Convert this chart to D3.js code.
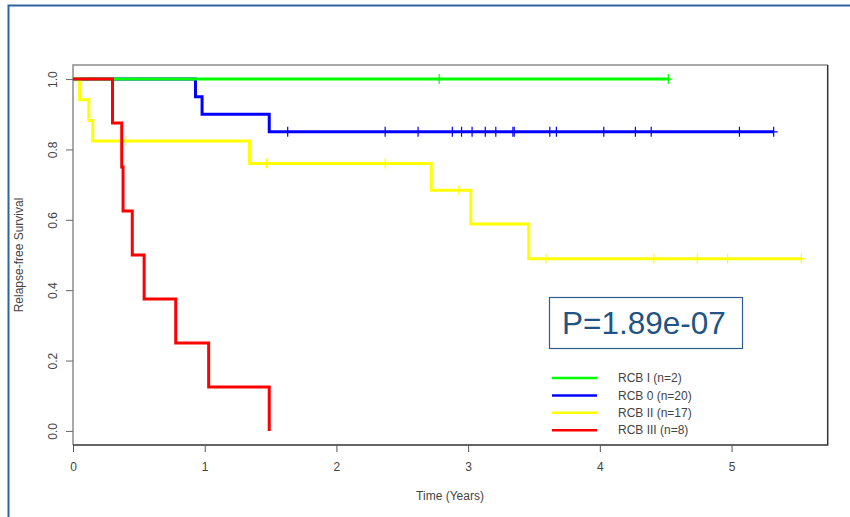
<!DOCTYPE html>
<html>
<head>
<meta charset="utf-8">
<script src="https://cdn.jsdelivr.net/npm/d3@7"></script>
<style>
  body { margin: 0; background: #fff; }
  svg { display: block; font-family: "Liberation Sans", Arial, sans-serif; }
</style>
</head>
<body>
<div id="km"></div>
<script>
// groups, in legend order
var groups = ["RCB I (n=2)", "RCB 0 (n=20)", "RCB II (n=17)", "RCB III (n=8)"];
var colors = ["#00ff00", "#0000ff", "#ffff00", "#ff0000"];

// event times (years) and survival after each event
var eventTimes = [
  [],
  [0.93, 0.98, 1.49],
  [0.05, 0.12, 0.15, 1.34, 2.72, 3.02, 3.46],
  [0.30, 0.37, 0.38, 0.45, 0.54, 0.78, 1.03, 1.49]
];
var survival = [
  [],
  [0.95, 0.90, 0.85],
  [0.941, 0.882, 0.824, 0.760, 0.684, 0.588, 0.489],
  [0.875, 0.75, 0.625, 0.5, 0.375, 0.25, 0.125, 0.0]
];
// censored times (the + marks)
var censorTimes = [
  [2.78, 4.52],
  [1.63, 2.37, 2.62, 2.88, 2.95, 3.03, 3.13, 3.21, 3.34, 3.35, 3.62, 3.67, 4.03, 4.27, 4.39, 5.06, 5.32],
  [0.40, 1.47, 2.37, 2.93, 3.59, 4.41, 4.74, 4.97, 5.53],
  []
];
var endTimes = [4.52, 5.32, 5.53, 1.49];

var xTicks = [0, 1, 2, 3, 4, 5];
var yTicks = [0, 0.2, 0.4, 0.6, 0.8, 1.0];
var pValue = "P=1.89e-07";

var kmPlot = function() {
  var width = 850, height = 517;
  var pLeft = 73, pRight = 827.7, pTop = 65, pBottom = 445;

  var svg = d3.select("#km").append("svg").attr("width", width).attr("height", height);

  // outer slide frame
  svg.append("path")
    .attr("d", "M8.5," + height + "V5.5H" + width)
    .attr("fill", "none").attr("stroke", "#2e64a0").attr("stroke-width", 2);

  var x = d3.scaleLinear().domain([0, 5.73]).range([pLeft, pRight]);
  var y = d3.scaleLinear().domain([-0.04, 1.04]).range([pBottom, pTop]);

  // plot box: top/left gray, right/bottom dark
  svg.append("path").attr("d", "M" + pLeft + "," + pBottom + "V" + pTop + "H" + pRight)
    .attr("fill", "none").attr("stroke", "#8c8c8c").attr("stroke-width", 1.5);
  svg.append("path").attr("d", "M" + pRight + "," + pTop + "V" + pBottom + "H" + pLeft)
    .attr("fill", "none").attr("stroke", "#333").attr("stroke-width", 1.5);

  // x axis
  var xAxis = svg.append("g").attr("transform", "translate(0," + pBottom + ")")
    .call(d3.axisBottom(x).tickValues(xTicks).tickFormat(d3.format("d")).tickSize(7).tickPadding(10));
  xAxis.select(".domain").remove();
  xAxis.selectAll(".tick line").attr("stroke", "#555");
  xAxis.selectAll("text").attr("font-size", 12).attr("fill", "#444");

  // y axis
  var yAxis = svg.append("g").attr("transform", "translate(" + pLeft + ",0)")
    .call(d3.axisLeft(y).tickValues(yTicks).tickFormat(d3.format(".1f")).tickSize(7).tickPadding(0));
  yAxis.select(".domain").remove();
  yAxis.selectAll(".tick line").attr("stroke", "#666");
  yAxis.selectAll("text")
    .attr("font-size", 12).attr("fill", "#444")
    .attr("text-anchor", "middle")
    .attr("transform", "translate(-20,0) rotate(-90)")
    .attr("x", 0).attr("dy", "0.35em");

  svg.append("text").attr("x", 450).attr("y", 500).attr("text-anchor", "middle")
    .attr("font-size", 12).attr("fill", "#444").text("Time (Years)");
  svg.append("text").attr("transform", "translate(23,255) rotate(-90)").attr("text-anchor", "middle")
    .attr("font-size", 12).attr("fill", "#444").text("Relapse-free Survival");

  // curves
  var line = d3.line().x(d => x(d[0])).y(d => y(d[1])).curve(d3.curveStepAfter);
  var drawOrder = [1, 2, 0, 3];

  drawOrder.forEach(function(i) {
    var pts = [[0, 1]];
    eventTimes[i].forEach(function(t, j) { pts.push([t, survival[i][j]]); });
    var last = pts[pts.length - 1][1];
    if (endTimes[i] > pts[pts.length - 1][0]) pts.push([endTimes[i], last]);

    svg.append("path").datum(pts)
      .attr("d", line)
      .attr("fill", "none")
      .attr("stroke", colors[i])
      .attr("stroke-width", 3);

    // survival at a censor time
    var survAt = function(t) {
      var s = 1;
      eventTimes[i].forEach(function(e, j) { if (e <= t) s = survival[i][j]; });
      return s;
    };

    svg.selectAll(null).data(censorTimes[i]).enter().append("path")
      .attr("d", function(t) {
        var cx = x(t), cy = y(survAt(t));
        return "M" + cx + "," + (cy - 5) + "V" + (cy + 5) + "M" + (cx - 4) + "," + cy + "H" + (cx + 4);
      })
      .attr("stroke", colors[i])
      .attr("stroke-width", 1.2);
  });

  // p-value box
  svg.append("rect").attr("x", 549.5).attr("y", 297.5).attr("width", 193).attr("height", 51)
    .attr("fill", "#fff").attr("stroke", "#2e5d8c").attr("stroke-width", 1.2);
  svg.append("text").attr("x", 644).attr("y", 334).attr("text-anchor", "middle")
    .attr("font-size", 31.5).attr("fill", "#1f5485").text(pValue);

  // legend
  var legend = svg.selectAll(".leg").data(groups).enter().append("g")
    .attr("transform", (d, i) => "translate(552," + (378 + i * 17.4) + ")");
  legend.append("line").attr("x1", 0).attr("x2", 45)
    .attr("stroke", (d, i) => colors[i]).attr("stroke-width", 2.5);
  legend.append("text").attr("x", 66).attr("dy", "0.35em")
    .attr("font-size", 12).attr("fill", "#444").text(d => d);
};

kmPlot();
</script>
</body>
</html>
